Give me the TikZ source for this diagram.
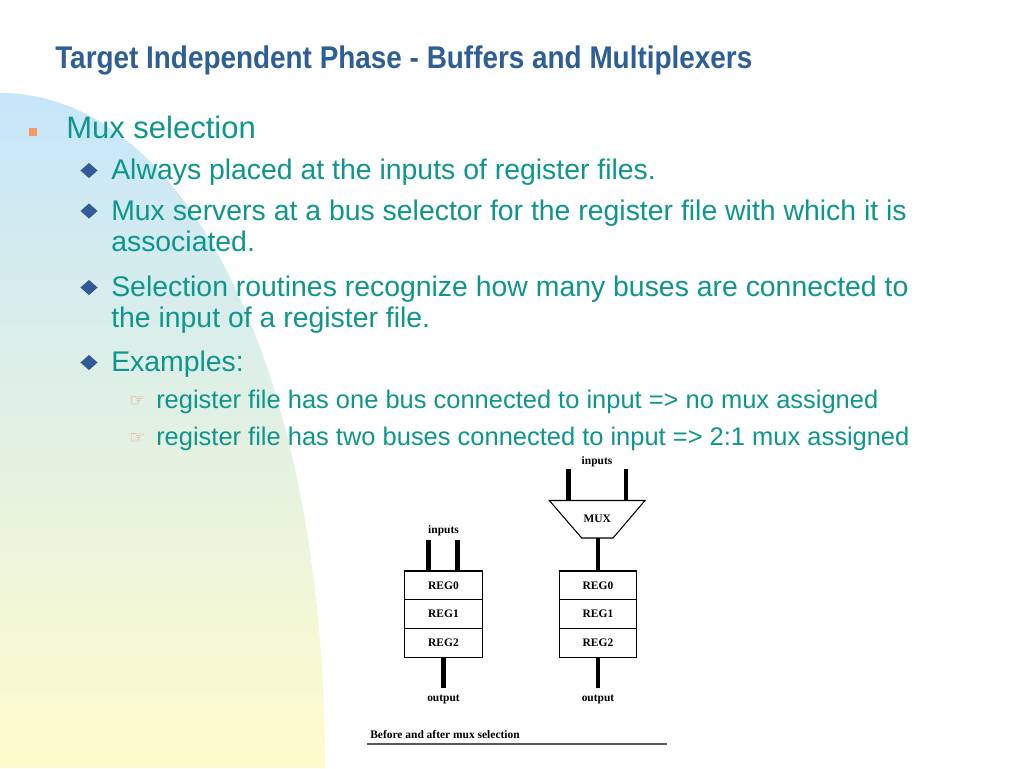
\documentclass[tikz,border=0pt]{standalone}
\usepackage{fontspec}
\usepackage{graphicx}
\setmainfont{Liberation Sans}
\newfontfamily\serifb{Liberation Serif}
\newfontfamily\symb{DejaVu Sans}
\usetikzlibrary{shapes.geometric}
\definecolor{titleblue}{RGB}{46,94,150}
\definecolor{bodyteal}{RGB}{14,150,140}
\definecolor{bgblue}{RGB}{198,230,250}
\definecolor{bgyellow}{RGB}{255,252,204}
\definecolor{dotorange}{RGB}{250,150,100}
\definecolor{handorange}{RGB}{238,150,110}
\definecolor{diablue}{RGB}{51,90,150}
\tikzset{
  lone/.style={anchor=base west, inner sep=0pt, text=bodyteal, font=\fontsize{23.25}{28}\selectfont},
  ltwo/.style={anchor=base west, inner sep=0pt, text=bodyteal, font=\fontsize{21.3}{26}\selectfont},
  lthree/.style={anchor=base west, inner sep=0pt, text=bodyteal, font=\fontsize{19.1}{23}\selectfont},
  dia/.style={diamond, fill=diablue, draw=none, inner sep=0pt, minimum width=13pt, minimum height=11.5pt},
  sq/.style={rectangle, fill=dotorange, draw=none, inner sep=0pt, minimum size=6pt},
  hand/.style={inner sep=0pt, text=handorange, font=\symb\fontsize{13}{15}\selectfont},
  reg/.style={rectangle, draw=black, line width=0.8pt, fill=white, minimum width=57.9pt, minimum height=21.5pt, inner sep=0pt, font=\serifb\bfseries\fontsize{8.6}{10}\selectfont},
  lab/.style={inner sep=0pt, font=\serifb\bfseries\fontsize{8.6}{10}\selectfont},
  bus/.style={line width=3.6pt, black},
}
\begin{document}
\begin{tikzpicture}[x=0.75pt,y=-0.75pt]
\useasboundingbox (0,0) rectangle (1024,768);
\fill[white] (0,0) rectangle (1024,768);
\shade[top color=bgblue, bottom color=bgyellow] (0,768) -- (0,93) .. controls (188.5,93) and (325,376.5) .. (325,768) -- cycle;

% title
\node[anchor=base west, inner sep=0pt, text=titleblue, font=\fontsize{23.5}{28}\selectfont\bfseries] (title) at (55,68.5) {\resizebox{522.75pt}{\height}{Target Independent Phase - Buffers and Multiplexers}};

% level 1
\node[sq] (b0) at (32.5,132) {};
\node[lone] (t0) at (66,138) {Mux selection};

% level 2
\node[dia] (b1) at (89,170.5) {};
\node[ltwo] (t1) at (111,179.5) {Always placed at the inputs of register files.};
\node[dia] (b2) at (89,211) {};
\node[ltwo] (t2) at (111,220) {Mux servers at a bus selector for the register file with which it is};
\node[ltwo] (t2b) at (111,251.5) {associated.};
\node[dia] (b3) at (89,287.5) {};
\node[ltwo] (t3) at (111,296.5) {Selection routines recognize how many buses are connected to};
\node[ltwo] (t3b) at (111,327.5) {the input of a register file.};
\node[dia] (b4) at (89,362.5) {};
\node[ltwo] (t4) at (111,371.5) {Examples:};

% level 3
\node[hand] (h1) at (137.5,401.5) {☞};
\node[lthree] (t5) at (156,408) {register file has one bus connected to input => no mux assigned};
\node[hand] (h2) at (137.5,438.5) {☞};
\node[lthree] (t6) at (156,445) {register file has two buses connected to input => 2:1 mux assigned};

% ---- left register file (before)
\node[reg] (l0) at (443.5,585.3) {REG0};
\node[reg] (l1) at (443.5,614) {REG1};
\node[reg] (l2) at (443.5,642.7) {REG2};
\node[lab] (linl) at (443.5,530.5) {inputs};
\coordinate (li1) at (428.5,540);
\coordinate (li2) at (457.5,540);
\draw[bus] (li1) -- (li1 |- l0.north);
\draw[bus] (li2) -- (li2 |- l0.north);
\coordinate (lo) at (443.5,688);
\draw[bus] (l2.south) -- (lo);
\node[lab] (loutl) at (443.5,699) {output};

% ---- right register file (after)
\node[reg] (r0) at (598,585.3) {REG0};
\node[reg] (r1) at (598,614) {REG1};
\node[reg] (r2) at (598,642.7) {REG2};
\draw[line width=0.8pt, fill=white] (549.3,500.5) coordinate (mtl) -- (645,500.5) coordinate (mtr) -- (613,538) coordinate (mbr) -- (581.7,538) coordinate (mbl) -- cycle;
\node[lab] (mux) at (597.3,518.5) {MUX};
\coordinate (mbot) at (598,538);
\draw[bus] (mbot) -- (r0.north);
\node[lab] (rinl) at (597,462) {inputs};
\coordinate (ri1) at (568.3,469);
\coordinate (ri2) at (626,469);
\draw[bus] (ri1) -- (ri1 |- mtl);
\draw[bus] (ri2) -- (ri2 |- mtl);
\coordinate (ro) at (598,688);
\draw[bus] (r2.south) -- (ro);
\node[lab] (routl) at (598,699) {output};

% caption
\node[lab, anchor=base west] (cap) at (370,738) {Before and after mux selection};
\coordinate (cl) at (367,744);
\coordinate (cr) at (667,744);
\draw[line width=1.1pt, black!65] (cl) -- (cr);
\end{tikzpicture}
\end{document}
